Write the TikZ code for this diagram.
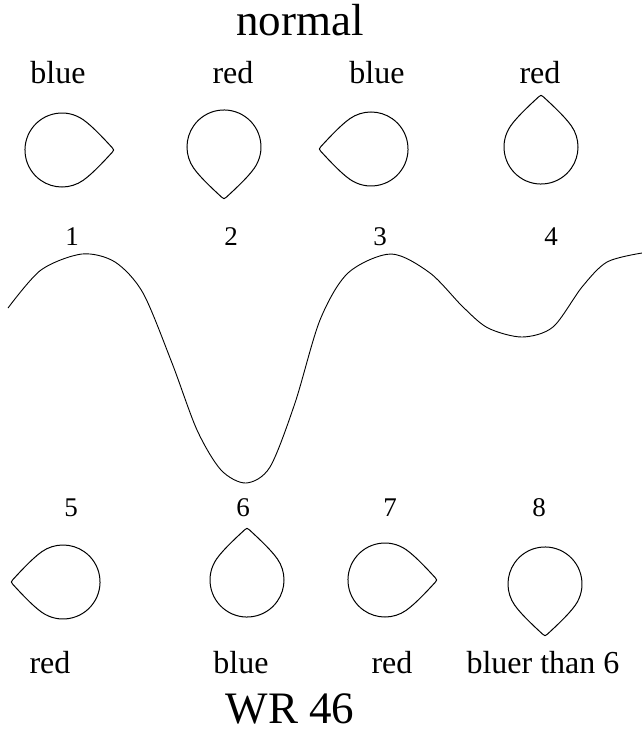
\documentclass[tikz,border=0pt]{standalone}
\usepackage{fontspec}
\setmainfont{Liberation Serif}
\begin{document}
\begin{tikzpicture}[x=1pt,y=-1pt,
  lab/.style={font=\fontsize{32}{36}\selectfont, anchor=base, inner sep=0pt},
  num/.style={font=\fontsize{27}{30}\selectfont, anchor=base, inner sep=0pt},
  big/.style={font=\fontsize{45}{50}\selectfont, anchor=base, inner sep=0pt},
  dropline/.style={draw=black, line width=1pt, line join=round},
  drop/.pic={\path[dropline] (21.2,30.3) .. controls (31,23.4) and (44,9) .. (50.5,2)
      .. controls (52,0.5) and (52,-0.5) .. (50.5,-2)
      .. controls (44,-9) and (31,-23.4) .. (21.2,-30.3)
      arc[start angle=-55, end angle=-305, radius=37] -- cycle;},
  curveline/.style={draw=black, line width=0.9pt}]
\useasboundingbox (0,0) rectangle (642,733);
% titles
\node[big] (title) at (300,36) {normal};
\node[big] (wr) at (290,723) {WR 46};
% top labels
\node[lab] (t1) at (58,84) {blue};
\node[lab] (t2) at (233,84) {red};
\node[lab] (t3) at (377,84) {blue};
\node[lab] (t4) at (540,84) {red};
% drops top
\pic[rotate=0] at (62,150) {drop};
\pic[rotate=270] at (224,147) {drop};
\pic[rotate=180] at (371,149) {drop};
\pic[rotate=90] at (541,147) {drop};
% numbers
\node[num] (n1) at (72,245) {1};
\node[num] (n2) at (231,245) {2};
\node[num] (n3) at (380,245) {3};
\node[num] (n4) at (551,245) {4};
\node[num] (n5) at (71,516) {5};
\node[num] (n6) at (243,516) {6};
\node[num] (n7) at (390,516) {7};
\node[num] (n8) at (539,516) {8};
% curve
\draw[curveline] plot[smooth, tension=0.5] coordinates {
 (8,308) (41,270) (82,254) (115,262) (143,293) (172,363) (197,430) (221,470)
 (246,483) (270,467) (295,403) (320,320) (348,273) (391,254) (430,273)
 (463,307) (488,328) (522,337) (553,327) (582,287) (607,262) (642,253)};
% drops bottom
\pic[rotate=180] at (63,582) {drop};
\pic[rotate=90] at (247,580) {drop};
\pic[rotate=0] at (385,580) {drop};
\pic[rotate=270] at (545,584) {drop};
% bottom labels
\node[lab] (b5) at (50,673) {red};
\node[lab] (b6) at (241,673) {blue};
\node[lab] (b7) at (392,673) {red};
\node[lab] (b8) at (543,673) {bluer than 6};
\end{tikzpicture}
\end{document}
